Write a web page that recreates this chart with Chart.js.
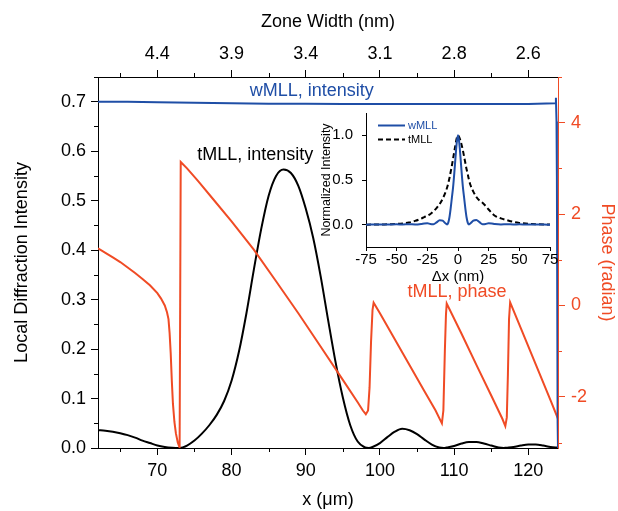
<!DOCTYPE html>
<html><head><meta charset="utf-8">
<script src="https://cdn.jsdelivr.net/npm/chart.js@4.4.1/dist/chart.umd.min.js"></script>
<style>
html,body{margin:0;padding:0;background:#fff;}
#wrap{position:relative;width:618px;height:511px;background:#fff;}
#main{position:absolute;left:0;top:0;width:618px;height:511px;}
#inset{position:absolute;left:310px;top:95px;width:255px;height:195px;}
</style></head><body>
<div id="wrap"><canvas id="main" width="618" height="511"></canvas><canvas id="inset" width="255" height="195"></canvas></div>
<script>
// ---------------- DATA ----------------
// Main chart: tMLL local diffraction intensity vs x (µm)
const tmllX = [62,63,64,65,66,67,68,69,70,71,72,73,74,75,76,77,78,79,80,81,82,83,84,85,86,87,88,89,90,91,92,93,94,95,96,97,98,98.5,99,100,101,102,103,104,105,106,107,108,108.6,109,110,111,112,113,114,115,116,116.7,117,118,119,120,121,122,123,124];
const tmllIntensity = [0.036,0.035,0.033,0.030,0.026,0.021,0.015,0.010,0.005,0.002,0.0005,0.000,0.005,0.015,0.029,0.046,0.067,0.095,0.136,0.195,0.272,0.360,0.443,0.510,0.550,0.563,0.556,0.530,0.484,0.425,0.348,0.260,0.175,0.102,0.046,0.013,0.001,0.000,0.002,0.010,0.022,0.033,0.039,0.036,0.028,0.017,0.007,0.001,0.000,0.001,0.004,0.009,0.012,0.012,0.009,0.005,0.001,0.000,0.0005,0.002,0.005,0.007,0.007,0.005,0.002,0.001];

// tMLL phase (radian) vs x (µm)
const phaseX = [62,63,64,65,66,67,68,69,70,70.5,71,71.3,71.5,71.65,71.8,71.95,72.1,72.3,72.5,72.75,73.0,73.15,74,75.5,77.5,80,83,86,89,92,95,97,97.7,98.1,98.4,98.6,98.8,99.0,99.15,100,102,104,106,107.5,108.1,108.35,108.55,108.75,108.9,109.0,111,113,115,116.5,116.9,117.1,117.25,117.4,117.55,119,121,123,124];
const tmllPhase = [1.25,1.15,1.05,0.95,0.83,0.71,0.58,0.44,0.27,0.15,0.00,-0.15,-0.30,-0.60,-1.05,-1.65,-2.15,-2.55,-2.80,-3.00,-3.11,3.14,3.00,2.72,2.33,1.84,1.22,0.53,-0.17,-0.90,-1.63,-2.12,-2.30,-2.38,-2.30,-1.80,-0.80,-0.10,0.06,-0.17,-0.74,-1.31,-1.88,-2.30,-2.50,-2.58,-2.30,-1.00,-0.20,0.04,-0.62,-1.30,-1.97,-2.48,-2.64,-2.45,-1.50,-0.30,0.07,-0.50,-1.29,-2.08,-2.48];

// wMLL local diffraction intensity vs x (µm)
const wmllX = [62,66,70,75,80,85,90,95,100,105,110,115,120,123.6,123.72,123.8,123.85,123.9,123.95,124];
const wmllIntensity = [0.700,0.700,0.699,0.698,0.697,0.696,0.696,0.6955,0.6955,0.6955,0.6955,0.6955,0.6955,0.697,0.708,0.66,0.55,0.30,0.05,0.0];

// Top axis: zone width (nm) labels at x = 70..120 µm
const zoneTickX = [70,80,90,100,110,120];
const zoneWidthLabels = ['4.4','3.9','3.4','3.1','2.8','2.6'];

// Inset: normalized intensity vs Δx (nm)
const dx = [-75,-70,-65,-60,-55,-50,-45,-40,-35,-30,-27.5,-25,-22.5,-20,-17.5,-15,-12.5,-10,-9,-8,-7,-6,-5,-4,-3,-2,-1,0,1,2,3,4,5,6,7,8,9,10,12.5,15,17.5,20,22.5,25,27.5,30,35,40,45,50,55,60,65,70,75];
const wmllNorm = [0.000,0.002,0.003,0.001,0.003,0.004,0.002,0.005,0.002,0.008,0.014,0.016,0.008,0.006,0.025,0.050,0.045,0.012,0.003,0.020,0.080,0.180,0.300,0.420,0.580,0.760,0.920,1.000,0.920,0.760,0.580,0.420,0.300,0.180,0.080,0.020,0.003,0.012,0.045,0.052,0.028,0.006,0.008,0.016,0.013,0.007,0.002,0.005,0.002,0.004,0.002,0.001,0.003,0.001,0.000];
const tmllNorm = [0.000,0.001,0.002,0.003,0.005,0.008,0.014,0.024,0.042,0.068,0.085,0.100,0.120,0.150,0.185,0.230,0.290,0.370,0.410,0.460,0.520,0.590,0.660,0.740,0.820,0.900,0.970,1.000,0.980,0.940,0.890,0.830,0.760,0.690,0.620,0.560,0.500,0.450,0.370,0.310,0.270,0.245,0.210,0.170,0.130,0.100,0.070,0.050,0.032,0.020,0.012,0.007,0.004,0.002,0.001];
const insetYTicks = [0, 0.5, 1.0];

// Minor tick values
const minorX = [65,75,85,95,105,115];
const minorYLeft = [0.05,0.15,0.25,0.35,0.45,0.55,0.65,0.75];
const minorYRight = [-3,-1,1,3,5];

// ---------------- STYLE ----------------
const FONT = "'Liberation Sans', Arial, Helvetica, sans-serif";
const RED = '#f04b25', BLUE = '#1f4ea6', BLACK = '#000000';

function pts(xs, ys){ return xs.map((x,i)=>({x:x, y:ys[i]})); }

const annotations = [
  {text:'wMLL, intensity', x:90.8, y:0.721, color:BLUE},
  {text:'tMLL, intensity', x:83.2, y:0.5915, color:BLACK},
  {text:'tMLL, phase', x:110.4, y:0.316, color:RED}
];

const minorTicksPlugin = {
  id:'minorTicks',
  afterDraw(chart, args, opts){
    const {ctx, chartArea:a, scales} = chart;
    ctx.save();
    ctx.lineWidth = 1;
    (opts.axes||[]).forEach(ax=>{
      const s = scales[ax.id];
      ctx.strokeStyle = ax.color;
      ax.values.forEach(v=>{
        if (v < s.min - 1e-9 || v > s.max + 1e-9) return;
        const p = Math.round(s.getPixelForValue(v)) + 0.5;
        ctx.beginPath();
        if (ax.side==='bottom'){ ctx.moveTo(p, a.bottom); ctx.lineTo(p, a.bottom+ax.len); }
        else if (ax.side==='top'){ ctx.moveTo(p, a.top); ctx.lineTo(p, a.top-ax.len); }
        else if (ax.side==='left'){ ctx.moveTo(a.left, p); ctx.lineTo(a.left-ax.len, p); }
        else { ctx.moveTo(a.right, p); ctx.lineTo(a.right+ax.len, p); }
        ctx.stroke();
      });
    });
    ctx.restore();
  }
};

const annotationPlugin = {
  id:'textNotes',
  afterDatasetsDraw(chart, args, opts){
    const {ctx, scales} = chart;
    ctx.save();
    ctx.font = opts.font;
    ctx.textAlign = 'center';
    ctx.textBaseline = 'middle';
    (opts.items||[]).forEach(it=>{
      ctx.fillStyle = it.color;
      ctx.fillText(it.text, scales.x.getPixelForValue(it.x), scales.y.getPixelForValue(it.y));
    });
    ctx.restore();
  }
};

const insetLegendPlugin = {
  id:'insetLegend',
  afterDraw(chart, args, opts){
    const {ctx, chartArea:a} = chart;
    ctx.save();
    chart.data.datasets.forEach((ds,i)=>{
      const y = Math.round(a.top + opts.top + i*opts.rowHeight) + 0.5;
      const x0 = a.left + opts.left;
      ctx.strokeStyle = ds.borderColor;
      ctx.lineWidth = ds.borderWidth;
      ctx.setLineDash(ds.borderDash || []);
      ctx.beginPath(); ctx.moveTo(x0, y); ctx.lineTo(x0 + opts.lineLength, y); ctx.stroke();
      ctx.setLineDash([]);
      ctx.fillStyle = ds.borderColor;
      ctx.font = opts.font;
      ctx.textAlign = 'left';
      ctx.textBaseline = 'middle';
      ctx.fillText(ds.label, x0 + opts.lineLength + 3, y);
    });
    ctx.restore();
  }
};

function axisCommon(color){
  return {
    grid:{display:true, drawOnChartArea:false, drawTicks:true, tickLength:7, tickColor:color, tickWidth:1},
    border:{display:true, color:color, width:1}
  };
}

// ---------------- MAIN CHART ----------------
new Chart(document.getElementById('main'), {
  type:'line',
  data:{
    datasets:[
      {label:'wMLL, intensity', data:pts(wmllX, wmllIntensity), xAxisID:'x', yAxisID:'y', borderColor:BLUE, borderWidth:2, pointRadius:0, tension:0, order:0},
      {label:'tMLL, intensity', data:pts(tmllX, tmllIntensity), xAxisID:'x', yAxisID:'y', borderColor:BLACK, borderWidth:2, pointRadius:0, cubicInterpolationMode:'monotone', order:2},
      {label:'tMLL, phase', data:pts(phaseX, tmllPhase), xAxisID:'x', yAxisID:'y2', borderColor:RED, borderWidth:2, pointRadius:0, tension:0, order:1}
    ]
  },
  options:{
    responsive:false, animation:false, devicePixelRatio:1,
    layout:{padding:0},
    plugins:{
      legend:{display:false}, tooltip:{enabled:false},
      minorTicks:{axes:[
        {id:'x', side:'bottom', values:minorX, len:4, color:BLACK},
        {id:'x2', side:'top', values:minorX, len:4, color:BLACK},
        {id:'y', side:'left', values:minorYLeft, len:4, color:BLACK},
        {id:'y2', side:'right', values:minorYRight, len:4, color:RED}
      ]},
      textNotes:{font:'18px ' + FONT, items:annotations}
    },
    scales:{
      x:Object.assign(axisCommon(BLACK), {
        type:'linear', position:'bottom', min:62, max:124,
        ticks:{stepSize:10, includeBounds:false, autoSkip:false, maxRotation:0, color:BLACK, padding:5, font:{family:FONT, size:18}},
        title:{display:true, text:'x (μm)', color:BLACK, font:{family:FONT, size:18}, padding:{top:0, bottom:0}},
        afterFit(s){ s.height = 63; }
      }),
      x2:Object.assign(axisCommon(BLACK), {
        type:'linear', position:'top', min:62, max:124,
        ticks:{stepSize:10, includeBounds:false, autoSkip:false, maxRotation:0, color:BLACK, padding:5, font:{family:FONT, size:18},
          callback(v){ const i = zoneTickX.findIndex(t=>Math.abs(t-v)<1e-6); return i>=0 ? zoneWidthLabels[i] : ''; }},
        title:{display:true, text:'Zone Width (nm)', color:BLACK, font:{family:FONT, size:18}, padding:{top:11, bottom:0}},
        afterFit(s){ s.height = 77; }
      }),
      y:Object.assign(axisCommon(BLACK), {
        type:'linear', position:'left', min:0, max:0.75,
        ticks:{stepSize:0.1, includeBounds:false, autoSkip:false, color:BLACK, padding:5, font:{family:FONT, size:18},
          callback(v){ return v.toFixed(1); }},
        title:{display:true, text:'Local Diffraction Intensity', color:BLACK, font:{family:FONT, size:18}, padding:{top:11, bottom:0}},
        afterFit(s){ s.width = 98; }
      }),
      y2:Object.assign(axisCommon(RED), {
        type:'linear', position:'right', min:-3.12, max:5.0,
        ticks:{stepSize:2, includeBounds:false, autoSkip:false, color:RED, padding:6, font:{family:FONT, size:18},
          callback(v){ return String(Math.round(v)); }},
        title:{display:true, text:'Phase (radian)', color:RED, font:{family:FONT, size:18}, padding:{top:0, bottom:0}},
        afterFit(s){ s.width = 60; }
      })
    }
  },
  plugins:[minorTicksPlugin, annotationPlugin]
});

// ---------------- INSET CHART ----------------
new Chart(document.getElementById('inset'), {
  type:'line',
  data:{
    datasets:[
      {label:'wMLL', data:pts(dx, wmllNorm), borderColor:BLUE, borderWidth:2, pointRadius:0, cubicInterpolationMode:'monotone'},
      {label:'tMLL', data:pts(dx, tmllNorm), borderColor:BLACK, borderWidth:2, borderDash:[5,3], pointRadius:0, cubicInterpolationMode:'monotone'}
    ]
  },
  options:{
    responsive:false, animation:false, devicePixelRatio:1,
    layout:{padding:{top:12, right:15, left:0, bottom:0}},
    plugins:{
      legend:{display:false}, tooltip:{enabled:false},
      insetLegend:{left:12, top:12, rowHeight:14, lineLength:27, font:'11px ' + FONT}
    },
    scales:{
      x:{
        type:'linear', position:'bottom', min:-75, max:75,
        ticks:{stepSize:25, autoSkip:false, maxRotation:0, color:BLACK, padding:0, font:{family:FONT, size:15}},
        grid:{display:true, drawOnChartArea:false, tickLength:4, tickColor:BLACK},
        border:{display:true, color:BLACK, width:1},
        title:{display:true, text:'Δx (nm)', color:BLACK, font:{family:FONT, size:15}, padding:{top:0, bottom:4}},
        afterFit(s){ s.height = 43; }
      },
      y:{
        type:'linear', position:'left', min:-0.25, max:1.25,
        afterBuildTicks(s){ s.ticks = insetYTicks.map(v=>({value:v})); },
        ticks:{autoSkip:false, color:BLACK, padding:9, font:{family:FONT, size:15},
          callback(v){ return Number(v).toFixed(1); }},
        grid:{display:true, drawOnChartArea:false, tickLength:4, tickColor:BLACK},
        border:{display:true, color:BLACK, width:1},
        title:{display:true, text:'Normalized Intensity', color:BLACK, font:{family:FONT, size:12.5}, padding:{top:9, bottom:0}},
        afterFit(s){ s.width = 56; }
      }
    }
  },
  plugins:[insetLegendPlugin]
});
</script>
</body></html>
